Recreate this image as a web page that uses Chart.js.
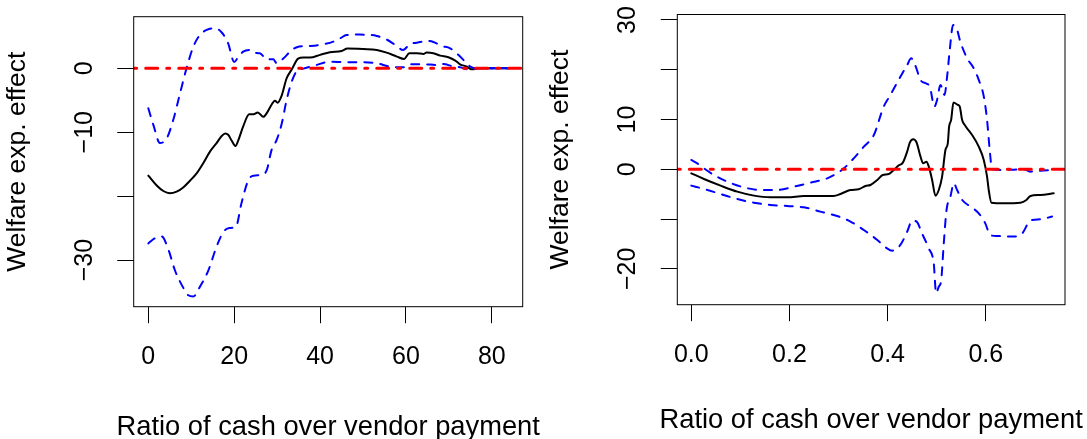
<!DOCTYPE html>
<html><head><meta charset="utf-8">
<script src="https://cdn.jsdelivr.net/npm/chart.js@4.4.0/dist/chart.umd.min.js"></script>
<style>
html,body{margin:0;padding:0;background:#fff;width:1087px;height:439px;overflow:hidden;}
.wrap{position:absolute;top:0;height:439px;}
#w1{left:0;width:544px;} #w2{left:544px;width:543px;}
canvas{display:block;}
</style></head><body>
<div class="wrap" id="w1"><canvas id="c1" width="544" height="439"></canvas></div>
<div class="wrap" id="w2"><canvas id="c2" width="543" height="439"></canvas></div>
<script>
// ---------- Left panel data ----------
const leftEstX = [0,1.9,3.5,5.0,6.6,8.2,9.7,11.3,12.8,14.4,15.9,17.1,17.9,18.6,19.4,20.3,21.0,22.1,23.5,24.5,25.5,26.8,27.7,28.7,29.5,30.1,31.1,32.2,33.4,34.9,36.1,37.7,40.0,42.3,45.0,46.4,50.1,53.2,55.5,57.9,59.6,60.8,62.5,64.1,64.8,66.4,68.0,69.9,71.5,72.6,74.2,75.3,76.5,78,84];
const leftEstY = [-16.8,-18.3,-19.2,-19.55,-19.3,-18.6,-17.6,-16.4,-14.85,-13.0,-11.7,-10.6,-10.2,-10.4,-11.3,-12.15,-11.2,-9.1,-7.2,-7.2,-6.9,-7.6,-6.9,-5.7,-5.06,-5.4,-4.2,-1.6,-0.2,1.5,1.67,1.67,2.1,2.5,2.7,3.08,3.0,2.87,2.45,1.83,1.46,2.35,2.35,2.24,2.45,2.35,1.98,1.72,1.2,0.63,0.26,-0.16,-0.05,0,0];
const leftUpX = [0,1.2,2.7,4.3,5.8,7.4,8.9,10.5,12.0,13.6,15.5,17.1,18.6,20.0,21.0,22.1,23.7,24.5,26.0,27.6,29.1,29.9,31.5,33.0,34.6,37.7,40.8,43.1,44.7,46.2,49.3,53.2,55.5,57.5,59.3,61.0,62.5,64.9,66.4,68.3,70.3,72.2,73.8,75.0,76.5,84];
const leftUpY = [-6.26,-8.9,-11.7,-10.95,-8.1,-3.9,0,3.4,5.2,6.0,6.26,5.6,3.9,1.0,1.8,2.6,2.87,2.45,2.35,1.4,1.4,0.8,1.56,2.6,3.3,3.5,3.76,4.17,4.7,5.2,5.27,5.06,4.5,3.65,2.87,3.8,4.0,4.28,4.12,3.5,3.13,2.1,1.04,0.26,0,0];
const leftLoX = [0,1.55,3.1,4.7,6.2,8.2,9.3,10.5,12.0,14.0,15.9,17.5,18.9,20.4,21.7,23.3,24.5,26.4,27.6,28.7,29.9,31.1,32.2,33.4,34.6,36.1,39.2,42.3,46.2,50.1,53.2,56.3,59.4,61.0,64.1,67.2,68.7,71.1,72.6,74.2,75.3,76.5,84];
const leftLoY = [-27.4,-26.6,-26.3,-28.4,-31.6,-34.4,-35.5,-35.7,-34.2,-31.6,-27.9,-25.6,-25.0,-24.8,-21.1,-17.5,-16.8,-16.7,-15.9,-12.8,-11.2,-8.6,-5.0,-2.1,-0.42,-0.05,0.52,1.04,0.94,0.94,0.78,0.26,0.16,0.63,0.63,0.52,0.68,0.26,0.16,-0.16,-0.26,0,0];
const leftXRange = [-3.4, 87.2];
const leftYRange = [-37.3, 8.07];
const leftXTicks = [0,20,40,60,80];
const leftYTicks = [-30,-20,-10,0];
const leftYShown = [-30,-10,0];

// ---------- Right panel data ----------
const rightEstX = [0,0.0258,0.0597,0.0937,0.1276,0.1615,0.1955,0.2294,0.2633,0.29,0.304,0.324,0.341,0.355,0.365,0.379,0.39,0.4024,0.4126,0.4228,0.431,0.4398,0.4452,0.452,0.4588,0.467,0.4724,0.4791,0.4839,0.4907,0.4974,0.5042,0.511,0.5178,0.5226,0.5253,0.5294,0.5341,0.543,0.547,0.5518,0.5585,0.5721,0.5857,0.5959,0.6026,0.606,0.6115,0.6366,0.6705,0.6827,0.6909,0.7112,0.7384];
const rightEstY = [-0.8,-1.94,-3.28,-4.49,-5.29,-5.63,-5.63,-5.36,-5.36,-5.36,-4.96,-4.16,-4.0,-3.35,-3.15,-2.14,-1.14,-0.94,-0.13,0.8,1.34,3.55,5.36,6.03,5.43,2.55,1.2,1.54,0.54,-2.14,-5.29,-4.16,-1.47,3.89,5.23,8.58,9.92,13.4,12.94,12.6,9.92,8.71,6.9,4.56,1.88,-1.47,-4.16,-6.7,-6.84,-6.7,-6.17,-5.36,-5.16,-4.83];
const rightUpX = [0,0.0122,0.0258,0.046,0.0733,0.107,0.141,0.175,0.209,0.243,0.277,0.297,0.311,0.331,0.3516,0.372,0.392,0.4058,0.426,0.44,0.448,0.4567,0.467,0.477,0.4859,0.4954,0.5008,0.5076,0.5158,0.5212,0.5266,0.5334,0.5416,0.548,0.562,0.5755,0.5857,0.596,0.6026,0.608,0.6128,0.6366,0.677,0.691,0.711,0.735];
const rightUpY = [1.88,1.2,0.2,-1.14,-2.48,-3.62,-4.16,-4.16,-3.49,-2.68,-1.81,-0.8,0.2,2.21,4.56,6.9,12.6,14.95,18.6,20.98,22.3,20.8,17.96,17.3,16.6,12.6,13.94,16.96,14.95,18.6,24.0,29.0,28.0,25.7,22.3,20.3,17.96,14.6,9.92,3.89,0,-0.13,0,-0.47,-0.27,-0.13];
const rightLoX = [0,0.0258,0.0597,0.0937,0.1276,0.1615,0.1955,0.2294,0.2633,0.297,0.3244,0.3516,0.379,0.399,0.409,0.426,0.44,0.45,0.459,0.4702,0.4839,0.494,0.4988,0.5042,0.509,0.5144,0.52,0.528,0.5348,0.5416,0.552,0.569,0.5857,0.599,0.609,0.623,0.657,0.674,0.691,0.711,0.735];
const rightLoY = [-3.28,-3.95,-4.96,-5.97,-6.7,-7.17,-7.37,-7.64,-8.5,-9.38,-10.5,-12.2,-14.2,-15.9,-16.35,-15.2,-12.5,-10.3,-10.5,-12.9,-15.9,-18.9,-24.9,-23.6,-22.4,-14.9,-8.18,-5.5,-2.8,-4.16,-6.17,-7.5,-8.85,-10.86,-13.2,-13.4,-13.5,-12.9,-10.3,-10.05,-9.5];
const rightXRange = [-0.0285, 0.7614];
const rightYRange = [-27.2, 31.1];
const rightXTicks = [0,0.2,0.4,0.6];
const rightYTicks = [-20,-10,0,10,20,30];
const rightYShown = [-20,0,10,30];

const xTitle = 'Ratio of cash over vendor payment';
const yTitle = 'Welfare exp. effect';

// ---------- helpers ----------
const FONT = '"Liberation Sans", Arial, Helvetica, sans-serif';
const zip = (xs, ys) => xs.map((x, i) => ({x: x, y: ys[i]}));
const fmtNum = v => (v < 0 ? '\u2212' + Math.abs(v) : String(v));

const boxPlugin = {
  id: 'rbox',
  afterDraw(chart) {
    const {ctx, chartArea: a} = chart;
    ctx.save();
    ctx.strokeStyle = '#000';
    ctx.lineWidth = 1;
    ctx.strokeRect(a.left, a.top, a.right - a.left, a.bottom - a.top);
    ctx.restore();
  }
};

// x-axis title drawn centred under the plot box at its natural width (no squeezing)
const xLabelPlugin = {
  id: 'xlab',
  afterDraw(chart, args, opts) {
    const {ctx, chartArea: a} = chart;
    ctx.save();
    ctx.font = opts.size + 'px ' + FONT;
    ctx.fillStyle = '#000';
    ctx.textAlign = 'center';
    ctx.textBaseline = 'alphabetic';
    ctx.fillText(opts.text, (a.left + a.right) / 2, opts.baseline);
    ctx.restore();
  }
};

function makePanel(id, p) {
  const lineBase = {pointRadius: 0, fill: false, cubicInterpolationMode: 'monotone', borderCapStyle: 'round'};
  new Chart(document.getElementById(id), {
    type: 'line',
    data: {
      datasets: [
        Object.assign({}, lineBase, {data: zip(p.xr, [0, 0]), borderColor: '#FF0000', borderWidth: 3, borderDash: [3, 9, 12, 9], borderDashOffset: p.dashOff, order: 0, cubicInterpolationMode: 'default', tension: 0}),
        Object.assign({}, lineBase, {data: zip(p.upX, p.upY), borderColor: '#0000FF', borderWidth: 2, borderDash: [8, 8], order: 1}),
        Object.assign({}, lineBase, {data: zip(p.loX, p.loY), borderColor: '#0000FF', borderWidth: 2, borderDash: [8, 8], order: 2}),
        Object.assign({}, lineBase, {data: zip(p.estX, p.estY), borderColor: '#000000', borderWidth: 2, order: 3})
      ]
    },
    options: {
      responsive: false,
      animation: false,
      events: [],
      layout: {autoPadding: false, padding: {left: 0, top: p.top, right: p.right, bottom: 0}},
      plugins: {
        legend: {display: false}, tooltip: {enabled: false},
        xlab: {text: xTitle, size: 27.3, baseline: p.xtBase}
      },
      scales: {
        x: {
          type: 'linear', min: p.xr[0], max: p.xr[1],
          afterBuildTicks: s => { s.ticks = p.xTicks.map(v => ({value: v})); },
          afterFit: s => { s.height = p.xH; s.paddingLeft = 0; s.paddingRight = 0; s.paddingTop = 0; s.paddingBottom = 0; },
          ticks: {callback: p.xFmt, font: {family: FONT, size: 25, lineHeight: 1.2}, color: '#000', padding: 19.2, autoSkip: false, maxRotation: 0, minRotation: 0},
          grid: {display: true, drawOnChartArea: false, drawTicks: true, tickLength: 16.5, color: '#000', lineWidth: 1},
          border: {display: false},
          title: {display: false}
        },
        y: {
          type: 'linear', min: p.yr[0], max: p.yr[1],
          afterBuildTicks: s => { s.ticks = p.yTicks.map(v => ({value: v})); },
          afterFit: s => { s.width = p.yW; s.paddingLeft = 0; s.paddingRight = 0; s.paddingTop = 0; s.paddingBottom = 0; },
          ticks: {callback: v => (p.yShown.includes(v) ? fmtNum(v) : ''), font: {family: FONT, size: 25, lineHeight: 1.2}, color: '#000', padding: p.ytickPad, autoSkip: false, minRotation: 90, maxRotation: 90, crossAlign: 'center'},
          grid: {display: true, drawOnChartArea: false, drawTicks: true, tickLength: 16.5, color: '#000', lineWidth: 1},
          border: {display: false},
          title: {display: true, text: yTitle, color: '#000', font: {family: FONT, size: 26.5, lineHeight: 1.2}, padding: {top: p.ytPad, bottom: 0}}
        }
      }
    },
    plugins: [boxPlugin, xLabelPlugin]
  });
}

makePanel('c1', {
  estX: leftEstX, estY: leftEstY, upX: leftUpX, upY: leftUpY, loX: leftLoX, loY: leftLoY,
  xr: leftXRange, yr: leftYRange, xTicks: leftXTicks, yTicks: leftYTicks, yShown: leftYShown,
  xFmt: v => fmtNum(v), top: 16.7, right: 21.3, yW: 133.7, xH: 132.3,
  xtBase: 435, ytPad: 1.6, ytickPad: 10.9, dashOff: 0
});
makePanel('c2', {
  estX: rightEstX, estY: rightEstY, upX: rightUpX, upY: rightUpY, loX: rightLoX, loY: rightLoY,
  xr: rightXRange, yr: rightYRange, xTicks: rightXTicks, yTicks: rightYTicks, yShown: rightYShown,
  xFmt: v => v.toFixed(1), top: 14.5, right: 22, yW: 133.3, xH: 134.3,
  xtBase: 428, ytPad: 0.8, ytickPad: 11.3, dashOff: 0
});
</script>
</body></html>
